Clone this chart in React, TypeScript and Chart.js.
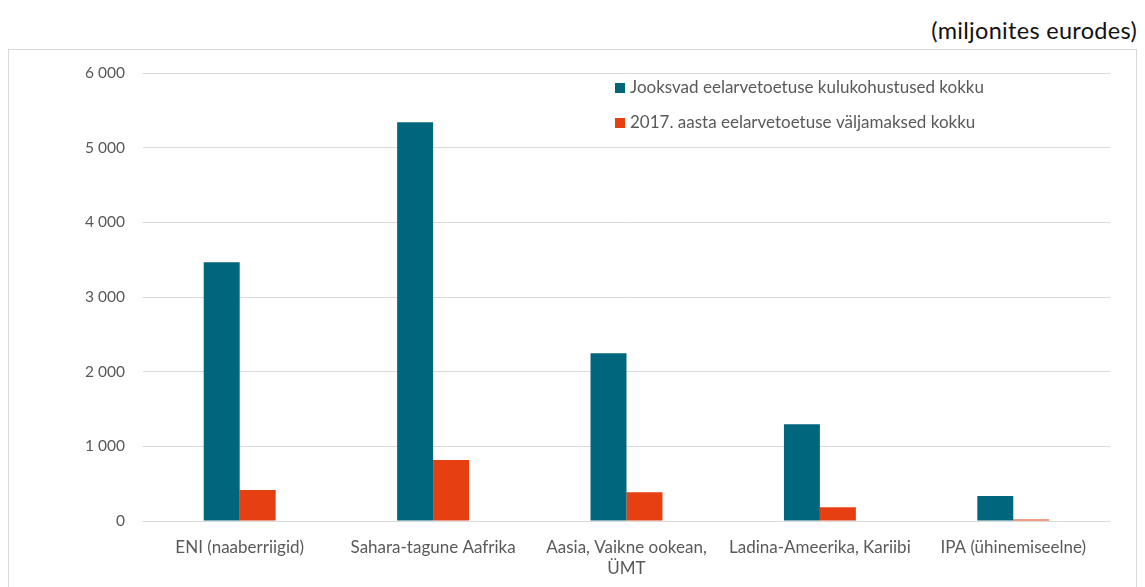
import React, { useEffect, useRef } from "react";
import { Chart, registerables } from "chart.js";

Chart.register(...registerables);

const categories: (string | string[])[] = [
  "ENI (naaberriigid)",
  "Sahara-tagune Aafrika",
  ["Aasia, Vaikne ookean,", "ÜMT"],
  "Ladina-Ameerika, Kariibi",
  "IPA (ühinemiseelne)",
];
const commitments = [3465, 5342, 2245, 1295, 335];
const payments = [415, 817, 385, 183, 20];
const seriesLabels = [
  "Jooksvad eelarvetoetuse kulukohustused kokku",
  "2017. aasta eelarvetoetuse väljamaksed kokku",
];
const seriesColors = ["#00667d", "#e64012"];
const unitTitle = "(miljonites eurodes)";

const FONT = "Lato, 'Noto Sans', sans-serif";
const GRAY = "#595959";

const fmt = (v: number) => String(v).replace(/\B(?=(\d{3})+(?!\d))/g, " ");

const legendPlugin = {
  id: "insideLegend",
  afterDraw(chart: any) {
    const ctx = chart.ctx;
    const x = 606;
    const ys = [38, 73];
    ctx.save();
    ctx.font = `17px ${FONT}`;
    ctx.textBaseline = "middle";
    ctx.textAlign = "left";
    chart.data.datasets.forEach((ds: any, i: number) => {
      ctx.fillStyle = ds.backgroundColor;
      ctx.fillRect(x, ys[i] - 5, 10, 10);
      ctx.fillStyle = GRAY;
      ctx.fillText(ds.label, x + 15, ys[i]);
    });
    ctx.restore();
  },
};

export default function App() {
  const ref = useRef<HTMLCanvasElement>(null);
  useEffect(() => {
    document.documentElement.style.overflow = "hidden";
    document.body.style.overflow = "hidden";
    if (!ref.current) return;
    const chart = new Chart(ref.current, {
      type: "bar",
      data: {
        labels: categories,
        datasets: [
          { label: seriesLabels[0], data: commitments, backgroundColor: seriesColors[0] },
          { label: seriesLabels[1], data: payments, backgroundColor: seriesColors[1] },
        ],
      },
      options: {
        responsive: false,
        animation: false,
        layout: { padding: { top: 23, right: 26, left: 0, bottom: 0 } },
        plugins: { legend: { display: false }, tooltip: { enabled: false } },
        datasets: { bar: { categoryPercentage: 0.372, barPercentage: 1 } } as any,
        scales: {
          x: {
            grid: { display: false },
            border: { display: false },
            ticks: {
              color: GRAY,
              font: { family: FONT, size: 17, lineHeight: 1.25 },
              padding: 8,
              maxRotation: 0,
              autoSkip: false,
            },
            afterFit: (s: any) => {
              s.height = 66;
            },
          },
          y: {
            min: 0,
            max: 6000,
            border: { display: false },
            grid: { color: "#d9d9d9", lineWidth: 1, drawTicks: false },
            ticks: {
              stepSize: 1000,
              color: GRAY,
              font: { family: FONT, size: 15.5 },
              padding: 18,
              callback: (v: any) => fmt(Number(v)),
            },
            afterFit: (s: any) => {
              s.width = 134;
              s.paddingTop = 0;
              s.paddingBottom = 0;
            },
          },
        },
      },
      plugins: [legendPlugin],
    });
    return () => chart.destroy();
  }, []);

  return (
    <div>
      <div
        style={{
          height: 41,
          lineHeight: "44px",
          textAlign: "right",
          fontFamily: FONT,
          fontSize: 23.5,
          color: "#111",
          letterSpacing: "0.3px",
        }}
      >
        {unitTitle}
      </div>
      <div style={{ border: "1px solid #d9d9d9", height: 560, boxSizing: "border-box" }}>
        <canvas ref={ref} width={1127} height={537} style={{ display: "block" }} />
      </div>
    </div>
  );
}
